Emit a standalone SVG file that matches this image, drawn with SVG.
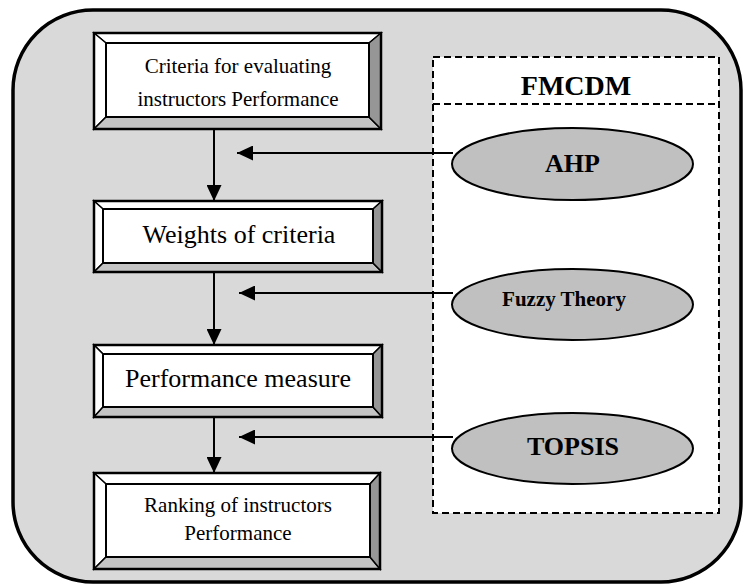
<svg xmlns="http://www.w3.org/2000/svg" width="744" height="586" viewBox="0 0 744 586">
<defs>
<style>
.bg{fill:#d9d9d9;stroke:#000;stroke-width:3.5}
.face{fill:#fff;stroke:#000;stroke-width:2}
.bev{stroke:#000;stroke-width:1.5;stroke-linejoin:miter}
.lt{fill:#fff}
.bt{fill:#c4c4c4}
.rt{fill:#969696}
.frame{fill:none;stroke:#000;stroke-width:2.5}
.dash{fill:#fff;stroke:#000;stroke-width:2;stroke-dasharray:7 4}
.dline{fill:none;stroke:#000;stroke-width:2;stroke-dasharray:7 4}
.ell{fill:#c0c0c0;stroke:#000;stroke-width:2}
.t{font-family:"Liberation Serif","Times New Roman",serif;fill:#000;text-anchor:middle}
.b{font-weight:bold}
.conn{fill:none;stroke:#000;stroke-width:2}
</style>
<marker id="ah" viewBox="0 0 16 15" refX="16" refY="7.5" markerWidth="16" markerHeight="15" markerUnits="userSpaceOnUse" orient="auto">
<path d="M0,0 L16,7.5 L0,15 z" fill="#000"/>
</marker>
</defs>

<rect class="bg" x="13" y="10" width="728" height="572" rx="80" ry="80"/>

<g id="fmcdm">
<rect class="dash" x="433" y="57" width="286" height="456"/>
<line class="dline" x1="433" y1="104" x2="719" y2="104"/>
<text class="t b" x="576" y="95" font-size="28">FMCDM</text>
</g>

<g id="box1">
<polygon class="bev lt" points="94,33 381,33 369,43 106,43"/>
<polygon class="bev lt" points="94,33 106,43 106,117 94,129"/>
<polygon class="bev bt" points="94,129 106,117 369,117 381,129"/>
<polygon class="bev rt" points="381,33 381,129 369,117 369,43"/>
<rect class="face" x="106" y="43" width="263" height="74"/>
<rect class="frame" x="94" y="33" width="287" height="96"/>
<text class="t" x="238" y="73" font-size="21">Criteria for evaluating</text>
<text class="t" x="238" y="106" font-size="21">instructors Performance</text>
</g>

<g id="box2">
<polygon class="bev lt" points="94,201 382,201 373,209 103,209"/>
<polygon class="bev lt" points="94,201 103,209 103,263 94,272"/>
<polygon class="bev bt" points="94,272 103,263 373,263 382,272"/>
<polygon class="bev rt" points="382,201 382,272 373,263 373,209"/>
<rect class="face" x="103" y="209" width="270" height="54"/>
<rect class="frame" x="94" y="201" width="288" height="71"/>
<text class="t" x="239" y="243" font-size="26">Weights of criteria</text>
</g>

<g id="box3">
<polygon class="bev lt" points="94,345 382,345 373,354 103,354"/>
<polygon class="bev lt" points="94,345 103,354 103,407 94,417"/>
<polygon class="bev bt" points="94,417 103,407 373,407 382,417"/>
<polygon class="bev rt" points="382,345 382,417 373,407 373,354"/>
<rect class="face" x="103" y="354" width="270" height="53"/>
<rect class="frame" x="94" y="345" width="288" height="72"/>
<text class="t" x="238" y="387" font-size="26">Performance measure</text>
</g>

<g id="box4">
<polygon class="bev lt" points="94,473 380,473 370,484 106,484"/>
<polygon class="bev lt" points="94,473 106,484 106,557 94,569"/>
<polygon class="bev bt" points="94,569 106,557 370,557 380,569"/>
<polygon class="bev rt" points="380,473 380,569 370,557 370,484"/>
<rect class="face" x="106" y="484" width="264" height="73"/>
<rect class="frame" x="94" y="473" width="286" height="96"/>
<text class="t" x="238" y="512" font-size="21">Ranking of instructors</text>
<text class="t" x="238" y="540" font-size="21">Performance</text>
</g>

<g id="ahp">
<ellipse class="ell" cx="572.5" cy="164" rx="120.5" ry="36"/>
<text class="t b" x="572.5" y="172" font-size="26">AHP</text>
</g>

<g id="fuzzy">
<ellipse class="ell" cx="572.5" cy="304.5" rx="120.5" ry="35.5"/>
<text class="t b" x="564" y="306" font-size="21">Fuzzy Theory</text>
</g>

<g id="topsis">
<ellipse class="ell" cx="572.5" cy="448.5" rx="120.5" ry="35.5"/>
<text class="t b" x="573" y="455" font-size="26">TOPSIS</text>
</g>

<g id="connectors">
<line class="conn" x1="214" y1="129" x2="214" y2="201" marker-end="url(#ah)"/>
<line class="conn" x1="214" y1="272" x2="214" y2="345" marker-end="url(#ah)"/>
<line class="conn" x1="214" y1="417" x2="214" y2="473" marker-end="url(#ah)"/>
<line class="conn" x1="453" y1="153" x2="237" y2="153" marker-end="url(#ah)"/>
<line class="conn" x1="453" y1="293" x2="239" y2="293" marker-end="url(#ah)"/>
<line class="conn" x1="453" y1="437" x2="239" y2="437" marker-end="url(#ah)"/>
</g>
</svg>
